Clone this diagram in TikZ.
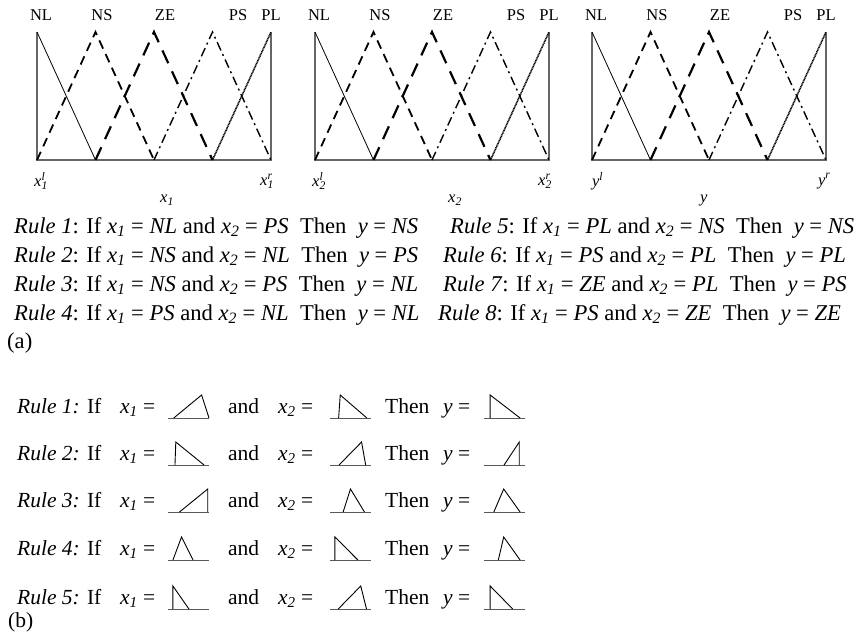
\documentclass[tikz,border=0pt]{standalone}
\usepackage{fontspec}
\setmainfont{Liberation Serif}
\usepackage{tikz}

\newcommand{\vx}[1]{\textit{x}\textsubscript{\textit{#1}}}
\newcommand{\bnd}[3]{\textit{#1}\rlap{\textsuperscript{\textit{#3}}}\textsubscript{\textit{#2}}}
\newcommand{\memb}[5]{%
  \draw[triaxis] (#1,#2) -- ++(41,0);
  \draw[tri] (#1+41*#3,#2) -- (#1+41*#4,#2-23) -- (#1+41*#5,#2);}

\begin{document}
\begin{tikzpicture}[x=1pt,y=-1pt,
  mflab/.style={font=\fontsize{16.5}{18}\selectfont,inner sep=0},
  rulea/.style={anchor=base west,inner sep=0,font=\fontsize{22.6}{26}\selectfont},
  ruleb/.style={anchor=base west,inner sep=0,font=\fontsize{21.5}{25}\selectfont},
  mfbox/.style={draw=black!60,line width=1.1pt},
  lineNL/.style={line width=0.8pt},
  lineNS/.style={line width=1.8pt,dash pattern=on 9pt off 6pt},
  lineZE/.style={line width=2.2pt,dash pattern=on 14pt off 9pt},
  linePS/.style={line width=1.4pt,dash pattern=on 9pt off 4pt on 2pt off 4pt},
  linePL/.style={line width=1.6pt,dash pattern=on 1pt off 0.6pt},
  tri/.style={line width=0.9pt},
  triaxis/.style={draw=black!65,line width=1pt}]
\useasboundingbox (0,0) rectangle (857,640);
\foreach \p/\lx/\v/\s/\vo in {1/37/x/1/130,2/315/x/2/140,3/592/y//112} {
  \draw[mfbox] (\lx,32) -- (\lx,160) -- (\lx+234,160) -- (\lx+234,32);
  \draw[lineNL] (\lx,32) -- (\lx+58.5,160);
  \draw[lineNS] (\lx,160) -- (\lx+58.5,32) -- (\lx+117,160);
  \draw[lineZE] (\lx+58.5,160) -- (\lx+117,32) -- (\lx+175.5,160);
  \draw[linePS] (\lx+117,160) -- (\lx+175.5,32) -- (\lx+234,160);
  \draw[linePL] (\lx+175.5,160) -- (\lx+234,32);
  \foreach \t/\o in {NL/4,NS/65,ZE/128,PS/201,PL/234}
    \node[mflab] (\t\p) at (\lx+\o,15) {\t};
  \node[mflab] (lo\p) at (\lx+4,181) {\bnd{\v}{\s}{l}};
  \node[mflab] (hi\p) at (\lx+230,181) {\bnd{\v}{\s}{r}};
  \node[mflab] (var\p) at (\lx+\vo,200) {\textit{\v}\textsubscript{\textit{\s}}};
}
\foreach \r/\xa/\yb/\a/\b/\c in {1/14/233/NL/PS/NS,2/14/262/NS/NL/PS,3/14/291/NS/PS/NL,4/14/320/PS/NL/NL,
  5/450/233/PL/NS/NS,6/443/262/PS/PL/PL,7/443/291/ZE/PL/PS,8/438/320/PS/ZE/ZE}
  \node[rulea] (ra\r) at (\xa,\yb) {\textit{Rule \r}: If \vx{1} = \textit{\a} and \vx{2} = \textit{\b}\ \ Then\ \ \textit{y} = \textit{\c}};
\node[rulea] (taga) at (7,348) {(a)};
\foreach \r/\yb/\pa/\pb/\pc/\qa/\qb/\qc/\sa/\sb/\sc in {
  1/413/.14/.82/1/.21/.25/.9/.15/.15/.88,
  2/460/.17/.19/.88/.22/.77/.87/.49/.86/.86,
  3/507/.28/.97/.97/.32/.5/.84/.24/.48/.88,
  4/555/.12/.33/.61/.12/.12/.68/.35/.48/.88,
  5/604/.12/.12/.51/.2/.75/.89/.15/.15/.7} {
  \node[ruleb] (rb\r) at (17,\yb) {\textit{Rule \r:} If};
  \node[ruleb] (xb\r) at (120,\yb) {\vx{1} =};
  \node[ruleb] (ab\r) at (228,\yb) {and};
  \node[ruleb] (zb\r) at (278,\yb) {\vx{2} =};
  \node[ruleb] (tb\r) at (385,\yb) {Then};
  \node[ruleb] (yb\r) at (443,\yb) {\textit{y} =};
  \memb{168}{\yb+5}{\pa}{\pb}{\pc}
  \memb{330}{\yb+5}{\qa}{\qb}{\qc}
  \memb{484}{\yb+5}{\sa}{\sb}{\sc}
}
\node[ruleb] (tagb) at (8,627) {(b)};
\end{tikzpicture}
\end{document}
